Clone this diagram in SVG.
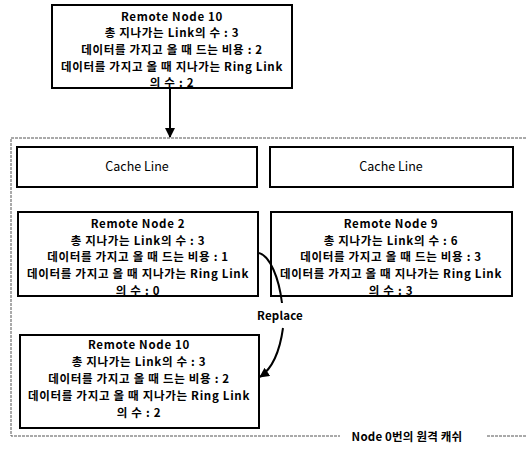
<svg xmlns="http://www.w3.org/2000/svg" width="526" height="450" viewBox="0 0 526 450">
<defs>
<style>
.box{fill:#fff;stroke:#000;stroke-width:2}
.t{font-family:"Noto Sans CJK KR","Noto Sans",sans-serif;font-size:11.5px;font-weight:bold;letter-spacing:0.7px;fill:#000;text-anchor:middle}
.l{font-family:"Noto Sans CJK KR","Noto Sans",sans-serif;font-size:11.5px;font-weight:bold;letter-spacing:0.2px;fill:#000;text-anchor:middle}
.c{font-family:"Noto Sans CJK KR","Noto Sans",sans-serif;font-size:12.5px;fill:#000;text-anchor:middle}
.frame{fill:none;stroke:#555;stroke-width:1;stroke-dasharray:3 1}
.conn{fill:none;stroke:#000;stroke-width:2}
</style>
<marker id="ah" viewBox="0 0 10 10" refX="9" refY="5" markerWidth="5" markerHeight="5" orient="auto">
<path d="M0,0 L10,5 L0,10 z" fill="#000"/>
</marker>
</defs>
<rect width="526" height="450" fill="#fff"/>
<g id="frame">
<path class="frame" d="M526,138 H11 V436 H340 M487,436 H526"/>
<text class="l" x="407" y="440.5">Node 0번의 원격 캐쉬</text>
</g>
<g id="node-top">
<rect class="box" x="52" y="5" width="240" height="83"/>
<text class="t" x="172" y="20.5">Remote Node 10</text>
<text class="t" x="172" y="37.2">총 지나가는 Link의 수 : 3</text>
<text class="t" x="172" y="53.9">데이터를 가지고 올 때 드는 비용 : 2</text>
<text class="t" x="172" y="70.6">데이터를 가지고 올 때 지나가는 Ring Link</text>
<text class="t" x="172" y="87.3">의 수 : 2</text>
</g>
<g id="cache-line-1">
<rect class="box" x="17" y="147" width="240" height="40"/>
<text class="c" x="137" y="171">Cache Line</text>
</g>
<g id="cache-line-2">
<rect class="box" x="270" y="147" width="243" height="40"/>
<text class="c" x="391" y="171">Cache Line</text>
</g>
<g id="node-2">
<rect class="box" x="18" y="212" width="240" height="84"/>
<text class="t" x="138" y="228">Remote Node 2</text>
<text class="t" x="138" y="244.7">총 지나가는 Link의 수 : 3</text>
<text class="t" x="138" y="261.4">데이터를 가지고 올 때 드는 비용 : 1</text>
<text class="t" x="138" y="278.1">데이터를 가지고 올 때 지나가는 Ring Link</text>
<text class="t" x="138" y="294.8">의 수 : 0</text>
</g>
<g id="node-9">
<rect class="box" x="271" y="212" width="241" height="84"/>
<text class="t" x="391" y="228">Remote Node 9</text>
<text class="t" x="391" y="244.7">총 지나가는 Link의 수 : 6</text>
<text class="t" x="391" y="261.4">데이터를 가지고 올 때 드는 비용 : 3</text>
<text class="t" x="391" y="278.1">데이터를 가지고 올 때 지나가는 Ring Link</text>
<text class="t" x="391" y="294.8">의 수 : 3</text>
</g>
<g id="node-bottom">
<rect class="box" x="20" y="335" width="239" height="93"/>
<text class="t" x="139" y="348.5">Remote Node 10</text>
<text class="t" x="139" y="365.5">총 지나가는 Link의 수 : 3</text>
<text class="t" x="139" y="382.5">데이터를 가지고 올 때 드는 비용 : 2</text>
<text class="t" x="139" y="399.5">데이터를 가지고 올 때 지나가는 Ring Link</text>
<text class="t" x="139" y="416.5">의 수 : 2</text>
</g>
<g id="replace-label">
<text class="l" x="280" y="320">Replace</text>
</g>
<g id="connectors">
<path class="conn" d="M170,88 V137" marker-end="url(#ah)"/>
<path class="conn" d="M259,253 C270,256 279,278 282,303"/>
<path class="conn" d="M283,328 C280,350 273,368 260,377" marker-end="url(#ah)"/>
</g>
</svg>
